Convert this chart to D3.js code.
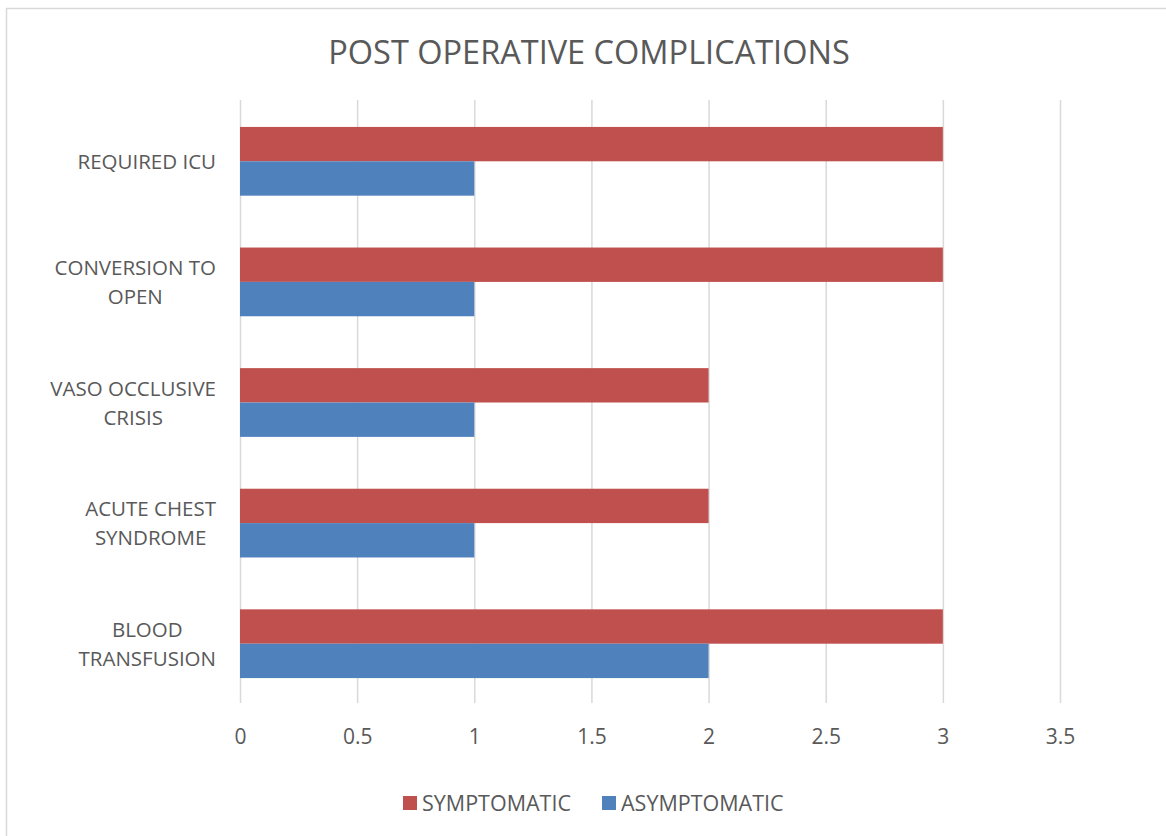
<!DOCTYPE html>
<html>
<head>
<meta charset="utf-8">
<script src="https://cdn.jsdelivr.net/npm/d3@7"></script>
<style>
  body { margin: 0; background: #fff; }
  text { font-family: "Open Sans", "Noto Sans", sans-serif; fill: #595959; }
</style>
</head>
<body>
<svg id="chart" width="1166" height="836"></svg>
<script>
// categories top to bottom
var categories = ["REQUIRED ICU", "CONVERSION TO OPEN", "VASO OCCLUSIVE CRISIS", "ACUTE CHEST SYNDROME", "BLOOD TRANSFUSION"];
// wrapped the way the original label boxes wrap them
var categoryLines = [["REQUIRED ICU"], ["CONVERSION TO", "OPEN"], ["VASO OCCLUSIVE", "CRISIS"], ["ACUTE CHEST", "SYNDROME"], ["BLOOD", "TRANSFUSION"]];
var seriesNames = ["SYMPTOMATIC", "ASYMPTOMATIC"];
var symptomatic = [3, 3, 2, 2, 3];
var asymptomatic = [1, 1, 1, 1, 2];
var xTicks = [0, 0.5, 1, 1.5, 2, 2.5, 3, 3.5];
var colors = ["#C0504D", "#4F81BD"];

var svg = d3.select("#chart");

// chart border
svg.append("rect")
    .attr("x", 6.5).attr("y", 8.5)
    .attr("width", 1166).attr("height", 836)
    .style("fill", "none")
    .style("stroke", "#D9D9D9")
    .style("stroke-width", 1.5);

var plotLeft = 240, plotRight = 1060, plotTop = 100, plotBottom = 703;

var x = d3.scaleLinear().domain([0, 3.5]).range([plotLeft, plotRight]);
var y = d3.scaleBand().domain(categories).range([plotTop + 1, plotBottom + 1]).paddingInner(0.43).paddingOuter(0.215);
var ySub = d3.scaleBand().domain(seriesNames).range([0, y.bandwidth()]);

// title
svg.append("text")
    .text("POST OPERATIVE COMPLICATIONS")
    .attr("x", 589).attr("y", 64)
    .attr("text-anchor", "middle")
    .style("font-size", "32.5px");

// gridlines + tick labels
var xAxis = d3.axisBottom(x).tickValues(xTicks).tickSize(-(plotBottom - plotTop)).tickFormat(d3.format("")).tickPadding(26);
var gx = svg.append("g").attr("transform", "translate(0," + plotBottom + ")").call(xAxis);
gx.select(".domain").remove();
gx.selectAll(".tick line").style("stroke", "#D9D9D9").style("stroke-width", 1.5);
gx.selectAll(".tick text").style("font-size", "21px").style("fill", "#595959").style("font-family", "'Open Sans', sans-serif");

// bars
var seriesValues = [symptomatic, asymptomatic];
seriesValues.forEach(function(vals, s){
    svg.append("g").selectAll("rect").data(vals).enter().append("rect")
        .attr("x", x(0))
        .attr("y", function(d, i){ return y(categories[i]) + ySub(seriesNames[s]); })
        .attr("width", function(d){ return x(d) - x(0); })
        .attr("height", ySub.bandwidth())
        .style("fill", colors[s]);
});

// category labels, lines centred inside a right-aligned block
var labelRight = 216, lineH = 29;
categories.forEach(function(c, i){
    var lines = categoryLines[i];
    var g = svg.append("g");
    var cy = y(c) + y.bandwidth() / 2;
    var texts = g.selectAll("text").data(lines).enter().append("text")
        .text(function(d){ return d; })
        .attr("y", function(d, j){ return cy + (j - (lines.length - 1) / 2) * lineH + 7.5; })
        .attr("text-anchor", "middle")
        .style("font-size", "20.5px");
    var maxW = 0;
    texts.each(function(){ maxW = Math.max(maxW, this.getComputedTextLength()); });
    texts.attr("x", labelRight - maxW / 2);
});

// legend
var legendX = [403, 602];
seriesNames.forEach(function(n, s){
    svg.append("rect")
        .attr("x", legendX[s]).attr("y", 796)
        .attr("width", 14).attr("height", 14)
        .style("fill", colors[s]);
    svg.append("text")
        .text(n)
        .attr("x", legendX[s] + 19).attr("y", 810.5)
        .style("font-size", "21.5px");
});
</script>
</body>
</html>
